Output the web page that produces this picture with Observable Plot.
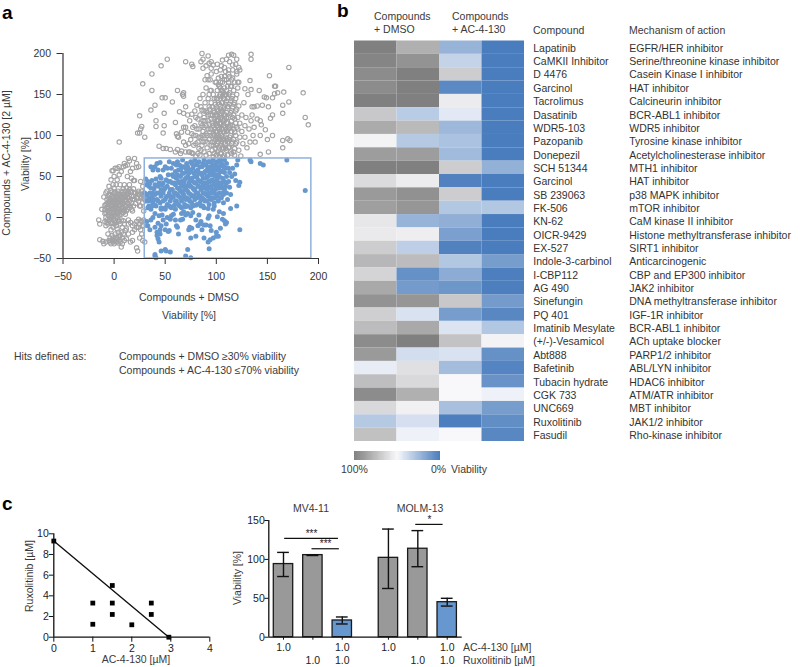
<!DOCTYPE html>
<html><head><meta charset="utf-8">
<script src="https://cdn.jsdelivr.net/npm/d3@7"></script>
<script src="https://cdn.jsdelivr.net/npm/@observablehq/plot@0.6"></script>
<style>
html,body{margin:0;padding:0;background:#fff}
#page{position:relative;width:800px;height:667px;overflow:hidden;font-family:"Liberation Sans",Arial,sans-serif;color:#3a3a3a}
#page svg{position:absolute;background:transparent;max-width:none}
.t{position:absolute;white-space:nowrap;font-size:10.5px;line-height:1;transform:translate(0,-50%)}
.c{transform:translate(-50%,-50%)}
.r{transform:translate(-50%,-50%) rotate(-90deg)}
.p{font-size:19px;font-weight:bold;color:#000}
</style></head><body><div id="page"></div>
<script>
// ---------- panel a: viability scatter ----------
const grayPoints = [
[5,92],[25,124],[23,103],[25,103],[26,108],[27,111],[30,98],[28,163],[37,155],[37,175],[46,185],[52,193],[70,190],[76,187],[77,184],[85,190],[86,200],[87,193],[87,182],[92,197],[93,188],[95,190],[97,186],[101,187],[100,178],[106,192],[110,193],[112,198],[115,199],[117,198],[120,193],[122,183],[123,180],[120,175],[134,199],[134,193],[152,173],[171,183],[133,167],[122,165],[121,158],[128,157],[134,156],[142,155],[147,147],[149,146],[155,146],[157,160],[158,160],[160,152],[157,151],[166,153],[185,152],[171,141],[165,137],[165,127],[155,125],[153,121],[151,135],[145,137],[140,136],[137,135],[135,135],[187,122],[190,113],[143,118],[144,113],[148,107],[143,100],[150,95],[155,100],[165,94],[170,96],[172,94],[165,85],[151,80],[143,77],
[47,146],[50,146],[57,141],[62,155],[67,150],[68,152],[68,148],[70,135],[64,129],[68,127],[36,131],[40,137],[41,118],[41,111],[49,127],[49,112],[60,116],[48,103],[61,102],[62,99],[63,98],[44,87],[48,84],[51,84],[55,83],[60,80],[62,83],[66,81],[70,80],[73,80],[76,79],[66,104],[68,92],[70,110],[70,88],[72,125],[65,78],
[72,104],[74,118],[75,95],[76,126],[77,110],[78,88],[79,130],[80,100],[80,75],[81,137],[82,92],[82,120],[83,84],[83,108],[84,145],[84,76],[85,115],[85,98],[86,131],[86,88],[87,150],[87,105],[88,122],[88,80],[89,168],[89,140],[89,93],[90,112],[90,158],[90,76],[91,128],[91,100],[91,85],[92,168],[92,145],[92,118],[93,135],[93,95],[93,78],[94,108],[94,155],[94,125],[95,88],[95,175],[95,140],[96,115],[96,100],[96,82],[97,130],[97,150],[97,74],[98,120],[98,108],[98,92],[99,165],[99,138],[99,84],[100,125],[100,112],[100,98],[100,76],[100,145],[101,132],[101,118],[101,105],[101,90],[101,155],[102,170],[102,140],[102,110],[102,82],[103,125],[103,97],[103,160],[103,74],[104,150],[104,132],[104,115],[104,102],[104,88],[105,172],[105,140],[105,122],[105,108],[105,78],[106,155],[106,130],[106,95],[106,165],[107,145],[107,118],[107,104],[107,84],[108,135],[108,125],[108,112],[108,158],[108,75],[109,178],[109,150],[109,98],[109,90],[110,142],[110,128],[110,116],[110,168],[110,82],[111,106],[111,135],[111,160],[111,76],[112,150],[112,122],[112,95],[113,172],[113,138],[113,110],[113,86],[114,128],[114,160],[114,100],[115,145],[115,118],[115,78],[116,135],[116,92],[116,170],[117,108],[117,125],[117,155],[118,140],[118,84],[118,76],[119,115],[119,100],[119,130],[120,150],[120,92],[121,122],[121,108],[121,165],[122,136],[122,82],[123,98],[123,115],[124,75],[125,125],[125,105],[126,90],[127,140],[128,112],[128,98],[129,122],[130,85],[131,150],[132,108],[133,92],[134,118],[135,125],[136,100],[137,110],[138,92],[140,120],[91,173],[94,168],[104,180],[112,180],[116,180],[120,178],
[88,110],[89,118],[90,102],[90,130],[91,92],[92,108],[92,125],[93,114],[93,150],[94,100],[94,132],[95,120],[95,108],[95,155],[96,92],[96,125],[96,135],[97,112],[97,102],[97,88],[98,100],[98,128],[98,145],[98,78],[99,115],[99,105],[99,124],[99,95],[100,135],[100,118],[100,105],[100,88],[101,125],[101,112],[101,145],[101,98],[101,80],[102,118],[102,130],[102,100],[102,92],[103,138],[103,115],[103,108],[103,148],[103,85],[104,122],[104,95],[104,165],[104,78],[105,130],[105,115],[105,100],[105,155],[105,92],[106,140],[106,120],[106,108],[106,85],[106,74],[107,152],[107,132],[107,112],[107,96],[108,145],[108,118],[108,105],[108,92],[108,168],[109,125],[109,138],[109,110],[109,84],[110,150],[110,122],[110,105],[110,96],[111,145],[111,115],[111,92],[112,135],[112,108],[112,165],[112,85],[113,125],[113,152],[113,98],[114,142],[114,112],[114,80],[115,130],[115,105],[115,90],[115,160],[116,122],[116,112],[116,148],[117,138],[117,95],[117,80],[118,120],[118,104],[119,145],[119,90],[120,132],[120,110],[78,100],[79,112],[80,122],[80,90],[81,108],[82,78],[83,98],[84,125],[85,82],[85,135],[86,112],[86,100],[87,118],[87,92],[88,130],[88,100],[73,90],[76,102],[77,78],[74,80],[68,110],[100,165],[102,162],[104,158],[106,148],[108,172],[110,155],[112,175],[115,168],[118,165],[105,185],[108,183],[113,190],[116,186],[119,187],[95,182],[90,185],
[-15,-3],[-14,-8],[-14,-27],[-12,10],[-11,-29],[-10,-32],[-10,25],[-9,-5],[-9,5],[-9,15],[-8,30],[-8,-30],[-8,-10],[-8,0],[-7,12],[-7,22],[-7,32],[-7,-3],[-6,8],[-6,18],[-6,-8],[-6,-20],[-5,2],[-5,28],[-5,12],[-5,38],[-5,-28],[-4,6],[-4,16],[-4,-2],[-4,22],[-4,-25],[-3,10],[-3,33],[-3,46],[-3,0],[-3,-15],[-3,-32],[-2,57],[-2,14],[-2,26],[-2,-6],[-2,-22],[-1,5],[-1,18],[-1,40],[-1,57],[-1,-12],[-1,-30],[0,10],[0,22],[0,50],[0,2],[0,-28],[0,30],[1,60],[1,14],[1,-4],[1,-20],[1,26],[2,8],[2,18],[2,40],[2,-10],[2,-30],[3,46],[3,12],[3,24],[3,60],[3,-25],[3,0],[4,32],[4,16],[4,6],[4,-18],[5,52],[5,22],[5,10],[5,62],[5,-5],[5,-28],[6,28],[6,14],[6,40],[6,-22],[7,18],[7,56],[7,4],[7,-36],[7,32],[8,12],[8,24],[8,-12],[8,-25],[9,35],[9,6],[9,18],[9,-20],[10,28],[10,40],[10,-8],[10,66],[11,14],[11,22],[11,-16],[12,36],[12,8],[12,-26],[13,30],[13,18],[13,50],[13,64],[14,-3],[14,-20],[14,24],[15,40],[15,12],[15,69],[16,32],[16,-30],[16,56],[17,18],[17,26],[18,8],[18,60],[18,-18],[18,-28],[19,35],[19,45],[20,22],[20,-8],[20,45],[21,30],[22,-37],[22,-12],[22,61],[23,-41],[23,23],[24,62],[24,-2],[24,32],[25,-8],[25,-25],[26,14],[26,44],[26,-15],[27,25],[27,-5],[28,18],[28,38],[28,-28],[29,-10],[29,8],[30,22],[14,72],[20,72],[22,66],[9,62],[11,63],[17,48],
[-9,9],[-8,16],[-8,6],[-7,-6],[-7,17],[-6,3],[-6,13],[-6,25],[-5,7],[-5,20],[-5,-4],[-4,11],[-4,27],[-4,1],[-3,5],[-3,15],[-3,20],[-3,-7],[-2,2],[-2,9],[-2,19],[-2,31],[-1,11],[-1,24],[-1,-3],[-1,-25],[0,6],[0,15],[0,-8],[0,18],[0,36],[1,3],[1,9],[1,20],[1,31],[1,-26],[2,13],[2,24],[2,1],[2,-6],[3,7],[3,17],[3,29],[3,-14],[4,11],[4,21],[4,-3],[4,25],[5,15],[5,3],[5,28],[5,-24],[6,8],[6,19],[6,23],[6,-8],[7,11],[7,25],[7,-3],[7,-18],[8,17],[8,6],[8,30],[8,21],[9,12],[9,24],[9,28],[9,-4],[10,9],[10,16],[10,21],[11,26],[11,32],[11,4],[12,14],[12,20],[12,28],[13,24],[13,10],[14,16],[14,31],[15,20],[15,26],[15,34],[16,14],[17,32],[17,10],[18,22],[19,14],[19,26],[20,30],[21,17],[22,24],[23,30],[24,20],[25,28],[25,14],[26,24],[27,32],[28,28],[29,24],[29,30],
[-2,-28],[0,-32],[2,-24],[4,-31],[-4,-30],[6,-30],[8,-32],[10,-28],[12,-14],[14,-8],[16,-6],[18,-10],[20,-15],[22,-5],[24,-12],[26,-4],[27,-20],[28,-10],[29,-3],[30,-30]
];
const hitPoints = [
[187,33],[169,70],[146,64],[143,66],[134,68],[133,70],[122,39],[123,43],[123,-15],[120,14],[114,11],[110,30],[113,37],[115,50],[118,53],[116,60],[120,64],[121,70],[119,45],[112,60],[110,66],[108,55],
[40,-45],[40,-47],[41,-49],[46,-41],[50,-39],[51,-41],[55,-42],[70,-47],[72,-39],[75,-49],[75,-25],[80,-23],[88,-25],[92,-30],[93,-38],[94,-27],[97,-25],[100,-23],[102,-23],[43,-26],[44,-30],[45,-20],[42,-22],
[33,-10],[35,-15],[32,-5],[36,-3],[38,0],[40,5],[40,-12],[42,-18],[43,-7],[44,2],[45,-15],[46,-10],[47,3],[48,-3],[50,-15],[51,-8],[52,0],[53,-17],[54,-16],[55,-2],[56,2],[58,4],[60,-3],[61,-10],[62,-12],[63,-20],[65,-3],[66,5],[67,-2],[68,7],[70,3],[72,5],[73,-15],[74,-12],[75,2],[76,-13],[77,6],[80,-3],[82,-10],[83,3],[84,-8],[85,-5],[86,-15],[88,-9],[90,-9],[92,-1],[93,2],[94,-10],[95,-16],[97,10],[100,-18],[101,1],[104,-13],[106,-2],[108,-4],[109,-8],[110,-6],[107,5],[103,7],[98,14],[92,11],[88,12],[85,14],[80,15],[75,12],[70,13],[66,12],[60,10],[55,13],[50,12],[46,10],
[31,47],[32,28],[33,20],[33,12],[34,38],[35,30],[36,10],[37,25],[37,45],[38,18],[38,58],[39,35],[40,28],[40,62],[41,14],[41,47],[42,22],[42,66],[43,38],[43,58],[44,30],[45,18],[45,50],[45,67],[46,26],[46,12],[47,40],[48,58],[48,20],[49,34],[50,10],[50,62],[51,25],[51,46],[52,16],[52,38],[53,52],[54,30],[54,68],[55,20],[55,44],[56,60],[56,12],[57,34],[57,52],[58,25],[58,66],[59,15],[59,42],[60,56],[60,30],[61,20],[61,48],[62,68],[62,36],[63,26],[63,58],[64,14],[64,42],[65,50],[65,32],[66,62],[66,20],[67,40],[67,70],[68,28],[68,54],[69,16],[69,46],[70,36],[70,60],[71,24],[71,66],[72,50],[72,14],[73,42],[73,30],[74,58],[74,20],[75,68],[75,38],[76,48],[76,26],[77,14],[77,60],[78,34],[78,54],[79,42],[79,70],[79,22],[80,64],[80,30],[81,50],[81,16],[82,38],[82,58],[83,26],[83,68],[84,44],[84,18],[85,54],[85,34],[86,62],[86,24],[87,48],[87,40],[87,14],[88,70],[88,30],[89,56],[89,20],[90,42],[90,64],[91,34],[91,50],[92,26],[92,60],[93,16],[93,44],[93,68],[94,54],[94,36],[95,22],[95,62],[96,46],[96,30],[97,56],[97,70],[98,40],[98,18],[99,64],[99,34],[99,50],[100,26],[100,44],[100,58],[101,68],[101,36],[102,20],[102,52],[103,62],[103,30],[104,42],[104,70],[105,56],[105,24],[106,48],[106,36],[106,64],[107,18],[107,28],[108,44],[108,70],[109,38],[110,50],[111,22],[112,44],[113,55],[114,28],
[52,60],[53,44],[55,34],[56,24],[57,42],[58,50],[59,30],[60,20],[60,40],[61,64],[62,28],[62,52],[63,44],[63,16],[64,34],[64,64],[65,24],[65,58],[66,44],[66,38],[67,30],[67,54],[68,42],[68,62],[69,24],[69,34],[70,48],[70,22],[71,38],[71,56],[72,32],[72,62],[73,22],[73,54],[74,38],[74,46],[75,28],[75,56],[76,18],[76,66],[77,36],[77,44],[78,26],[78,64],[79,50],[79,34],[80,42],[80,56],[81,24],[81,66],[82,46],[82,30],[83,38],[83,54],[84,26],[84,62],[85,44],[85,22],[86,36],[86,52],[87,30],[87,66],[88,42],[88,54],[88,22],[89,36],[89,64],[90,48],[90,28],[91,58],[91,40],[91,20],[92,50],[92,36],[92,68],[93,30],[93,56],[94,44],[94,24],[94,62],[95,38],[95,52],[95,68],[96,34],[96,58],[96,24],[97,44],[97,64],[98,30],[98,52],[98,62],[99,42],[99,24],[100,36],[100,52],[100,66],[101,46],[101,28],[102,40],[102,60],[102,68],[103,36],[103,50],[104,24],[104,56],[105,40],[105,66],[106,30],[106,56],[107,44],[107,62],[108,34],[109,60],[110,42],
[30,30],[31,20],[32,40],[33,44],[34,24],[34,14],[35,42],[36,20],[36,36],[37,14],[38,30],[39,22],[40,40],[40,15],[42,30],[43,20],[44,42],[46,34],[46,48],[48,30],[48,42],[50,22],[50,36],[52,26],[54,14],[55,26],[36,62]
];
const hitWindow = {x1:30, x2:193, y1:-50, y2:72};
const scatterTicks = [-50,0,50,100,150,200];

// ---------- panel b: heat map ----------
const compounds = ["Lapatinib","CaMKII Inhibitor","D 4476","Garcinol","Tacrolimus","Dasatinib","WDR5-103","Pazopanib","Donepezil","SCH 51344","Garcinol","SB 239063","FK-506","KN-62","OICR-9429","EX-527","Indole-3-carbinol","I-CBP112","AG 490","Sinefungin","PQ 401","Imatinib Mesylate","(+/-)-Vesamicol","Abt888","Bafetinib","Tubacin hydrate","CGK 733","UNC669","Ruxolitinib","Fasudil"];
const mechanisms = ["EGFR/HER inhibitor","Serine/threonine kinase inhibitor","Casein Kinase I inhibitor","HAT inhibitor","Calcineurin inhibitor","BCR-ABL1 inhibitor","WDR5 inhibitor","Tyrosine kinase inhibitor","Acetylcholinesterase inhibitor","MTH1 inhibitor","HAT inhibitor","p38 MAPK inhibitor","mTOR inhibitor","CaM kinase II inhibitor","Histone methyltransferase inhibitor","SIRT1 inhibitor","Anticarcinogenic","CBP and EP300 inhibitor","JAK2 inhibitor","DNA methyltransferase inhibitor","IGF-1R inhibitor","BCR-ABL1 inhibitor","ACh uptake blocker","PARP1/2 inhibitor","ABL/LYN inhibitor","HDAC6 inhibitor","ATM/ATR inhibitor","MBT inhibitor","JAK1/2 inhibitor","Rho-kinase inhibitor"];
const dmsoA = [100,98,95,95,100,70,82,52,88,100,62,89,87,57,56,68,77,65,83,92,67,75,95,89,45,74,95,63,31,73];
const dmsoB = [80,92,100,100,100,32,76,31,88,100,55,93,91,22,54,33,75,8,12,91,41,83,100,39,60,63,80,53,40,47];
const acA   = [22,35,68,5,55,44,24,28,25,68,2,68,30,20,14,2,30,19,10,70,13,42,72,41,26,50,50,27,1,50];
const acB   = [0,0,0,0,0,0,0,0,0,21,0,0,30,0,0,0,13,1,1,12,4,30,52,8,3,9,47,13,7,4];
const heatColumns = ["dmsoA","dmsoB","acA","acB"];
const heatSeries = [dmsoA,dmsoB,acA,acB];
const heatColor = {type:"linear",domain:[0,50,100],range:["#4a7dbd","#f8f8fb","#808080"],interpolate:"rgb"};
const legendValues = d3.range(0,101);

// ---------- panel c: isobologram ----------
const isoAC = [0,1,1,1.5,1.5,1.5,2,2.5,2.5,2.95];
const isoRux = [9.3,3.3,1.25,5,3.3,2.2,1.2,3.3,2.2,0];
const isoLineAC = [0,2.95];
const isoLineRux = [9.3,0];

// ---------- panel c: bars ----------
const barSlots = [1,2,3,4.57,5.57,6.57];
const barMeans = [94,105.5,21.5,102,113.7,45];
const barLow   = [78,105,17,62.6,90.6,40];
const barHigh  = [109,106,26,139,137,50];
const barHit   = [false,false,true,false,false,true];
const acDose   = ["1.0","","1.0","1.0","","1.0"];
const ruxDose  = ["","1.0","1.0","","1.0","1.0"];
const sigSlots = [[1.04,2.87,127,"***"],[1.97,2.9,113.7,"***"],[5.5,6.43,145,"*"]];

const page = document.getElementById("page");
const font = {fontFamily:"'Liberation Sans',Arial,sans-serif",fontSize:"10.5px",color:"#333",background:"transparent"};
function place(svg,left,top){svg.style.left=left+"px";svg.style.top=top+"px";page.appendChild(svg);}
function label(text,x,y,cls){const d=document.createElement("div");d.className="t "+(cls||"");d.textContent=text;d.style.left=x+"px";d.style.top=y+"px";page.appendChild(d);return d;}

// panel a
place(Plot.plot({
  width:340,height:300,marginLeft:62.5,marginRight:22,marginTop:53,marginBottom:42,style:font,
  x:{domain:[-50,200]},y:{domain:[-50,200]},
  marks:[
    Plot.dot(grayPoints,{x:d=>d[0],y:d=>d[1],r:2.2,stroke:"#a3a3a6",strokeWidth:1.1,fill:"none"}),
    Plot.dot(hitPoints,{x:d=>d[0],y:d=>d[1],r:2.5,fill:"#6698cf",stroke:"none"}),
    Plot.rect([hitWindow],{x1:"x1",x2:"x2",y1:"y1",y2:"y2",stroke:"#8fb1dc",strokeWidth:1.5,fill:"none"}),
    Plot.ruleY([-50],{stroke:"#333",strokeWidth:1.2}),
    Plot.ruleX([-50],{stroke:"#333",strokeWidth:1.2}),
    Plot.axisX({ticks:scatterTicks,tickSize:6,tickPadding:8,label:null,stroke:"#333"}),
    Plot.axisY({ticks:scatterTicks,tickSize:6,tickPadding:6,label:null,stroke:"#333"})
  ]
}),0,0);

// panel b heat map
const heatRows = heatSeries.flatMap((vals,c)=>vals.map((v,i)=>({col:heatColumns[c],row:i,v})));
place(Plot.plot({
  width:460,height:420,marginLeft:14,marginRight:276,marginTop:10.5,marginBottom:9,style:font,
  x:{domain:heatColumns,axis:null,padding:0,round:false},
  y:{domain:d3.range(30),axis:null,padding:0,round:false},
  color:heatColor,
  marks:[
    Plot.cell(heatRows,{x:"col",y:"row",fill:"v"}),
    Plot.text(compounds,{x:()=>"acB",y:(d,i)=>i,text:d=>d,textAnchor:"start",dx:30,dy:0.7,fill:"#333"}),
    Plot.text(mechanisms,{x:()=>"acB",y:(d,i)=>i,text:d=>d,textAnchor:"start",dx:126,dy:0.7,fill:"#333"})
  ]
}),340,30);

// colour bar
place(Plot.plot({
  width:100,height:12,marginLeft:13.5,marginRight:0.5,marginTop:1,marginBottom:2,style:font,
  x:{domain:[100,0],axis:null},y:{axis:null},color:heatColor,
  marks:[Plot.rect(legendValues,{x1:d=>Math.min(100,d+1),x2:d=>Math.max(0,d-1),fill:d=>d,shapeRendering:"crispEdges"})]
}),340,450);

// panel c isobologram
const isoPts = isoAC.map((a,i)=>({a,r:isoRux[i]}));
place(Plot.plot({
  width:240,height:177,marginLeft:53.3,marginRight:30.7,marginTop:43.3,marginBottom:30.3,style:{...font,color:"#222"},
  x:{domain:[0,4]},y:{domain:[0,10]},
  marks:[
    Plot.line(isoLineAC.map((a,i)=>({a,r:isoLineRux[i]})),{x:"a",y:"r",stroke:"#111",strokeWidth:1.4}),
    Plot.dot(isoPts,{x:"a",y:"r",symbol:"square",r:2.7,fill:"#000"}),
    Plot.ruleY([0],{stroke:"#111",strokeWidth:1.3}),
    Plot.ruleX([0],{stroke:"#111",strokeWidth:1.3}),
    Plot.axisX({ticks:[0,1,2,3,4],tickFormat:d=>d,tickSize:5,tickPadding:2,label:null,stroke:"#111"}),
    Plot.axisY({ticks:[0,2,4,6,8,10],tickFormat:d=>d,tickSize:4.5,tickPadding:0.5,label:null,stroke:"#111"})
  ]
}),0,490);

// panel c bars
const bars = barSlots.map((s,i)=>({s,m:barMeans[i],lo:barLow[i],hi:barHigh[i],hit:barHit[i]}));
place(Plot.plot({
  width:240,height:177,marginLeft:28.3,marginRight:18.3,marginTop:30,marginBottom:30.3,style:{...font,color:"#222"},
  x:{domain:[0.5,7.08]},y:{domain:[0,150]},
  marks:[
    Plot.rectY(bars,{x1:d=>d.s-0.33,x2:d=>d.s+0.33,y1:0,y2:"m",fill:d=>d.hit?"#6698cf":"#999999",stroke:"#1a1a1a",strokeWidth:1.3}),
    Plot.ruleX(bars,{x:"s",y1:"lo",y2:"hi",stroke:"#111",strokeWidth:1.4}),
    Plot.ruleY(bars,{x1:d=>d.s-0.2,x2:d=>d.s+0.2,y:"lo",stroke:"#111",strokeWidth:1.4}),
    Plot.ruleY(bars,{x1:d=>d.s-0.2,x2:d=>d.s+0.2,y:"hi",stroke:"#111",strokeWidth:1.4}),
    Plot.ruleY(sigSlots,{x1:d=>d[0],x2:d=>d[1],y:d=>d[2],stroke:"#111",strokeWidth:1.2}),
    Plot.text(sigSlots,{x:d=>(d[0]+d[1])/2,y:d=>d[2],text:d=>d[3],dy:-5,fontSize:10,fill:"#222"}),
    Plot.ruleY([0],{stroke:"#111",strokeWidth:1.3}),
    Plot.ruleX([0.5],{stroke:"#111",strokeWidth:1.3}),
    Plot.axisY({ticks:[0,50,100,150],tickSize:4,tickPadding:0,label:null,stroke:"#111"}),
    Plot.axisX({ticks:barSlots,tickSize:3,tickPadding:3,tickFormat:(d,i)=>acDose[i],label:null,stroke:"#111"}),
    Plot.text(ruxDose,{x:(d,i)=>barSlots[i],frameAnchor:"bottom",text:d=>d,dy:27,fill:"#222",filter:d=>d})
  ]
}),240,490);

// free labels
label("a",2,12,"p");label("b",337,10,"p");label("c",2,503,"p");
label("Compounds + AC-4-130 [2 µM]",6,163,"r");
label("Viability [%]",25,164,"r");
label("Compounds + DMSO",189,297,"c");
label("Viability [%]",189,315,"c");
label("Hits defined as:",14,356);
label("Compounds + DMSO ≥30% viability",119,356);
label("Compounds + AC-4-130 ≤70% viability",119,370);
label("Compounds",374,16);label("+ DMSO",374,29);
label("Compounds",452,16);label("+ AC-4-130",452,29);
label("Compound",533,30);label("Mechanism of action",629,30);
label("100%",341,469);label("0%",431,469);label("Viability",451,469);
label("Ruxolitinib [µM]",29,576,"r");
label("AC-4-130 [µM]",136,659,"c");
label("Viability [%]",237,578,"r");
label("MV4-11",311,508,"c");label("MOLM-13",420,508,"c");
label("AC-4-130 [µM]",463,647);label("Ruxolitinib [µM]",463,660);
</script></body></html>
